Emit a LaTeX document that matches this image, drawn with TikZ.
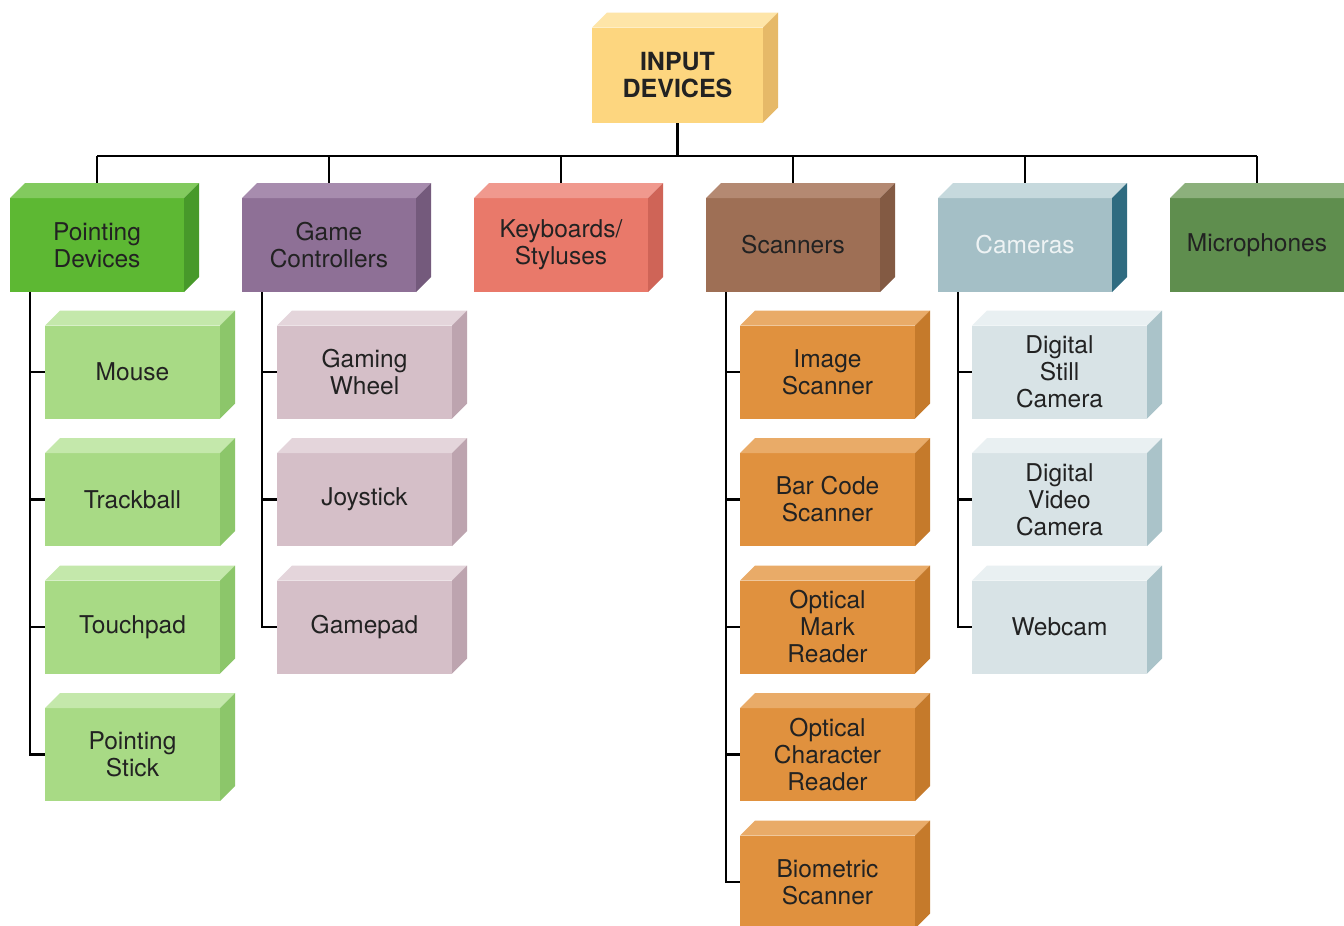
\documentclass[tikz,border=0pt]{standalone}
\usepackage{fontspec}
\setmainfont{TeX Gyre Heros}
\usetikzlibrary{backgrounds}
\definecolor{inF}{HTML}{FDD67F}\definecolor{inT}{HTML}{FEE5A8}\definecolor{inS}{HTML}{E6B968}
\definecolor{pdF}{HTML}{5DB833}\definecolor{pdT}{HTML}{82CA5E}\definecolor{pdS}{HTML}{47992A}
\definecolor{gcF}{HTML}{8E7096}\definecolor{gcT}{HTML}{A78CAE}\definecolor{gcS}{HTML}{745A7C}
\definecolor{kbF}{HTML}{E9796A}\definecolor{kbT}{HTML}{F0998E}\definecolor{kbS}{HTML}{CF6457}
\definecolor{scF}{HTML}{9E6F55}\definecolor{scT}{HTML}{B48972}\definecolor{scS}{HTML}{835A43}
\definecolor{caF}{HTML}{A4BFC6}\definecolor{caT}{HTML}{C6D9DD}\definecolor{caS}{HTML}{2F6B80}
\definecolor{miF}{HTML}{5F8E4E}\definecolor{miT}{HTML}{8CB07C}\definecolor{miS}{HTML}{4C7A3D}
\definecolor{pcF}{HTML}{A8DA85}\definecolor{pcT}{HTML}{C4E8AB}\definecolor{pcS}{HTML}{8CC66A}
\definecolor{gpF}{HTML}{D5BFC8}\definecolor{gpT}{HTML}{E4D5DB}\definecolor{gpS}{HTML}{BDA4AF}
\definecolor{soF}{HTML}{E0913E}\definecolor{soT}{HTML}{E9AB68}\definecolor{soS}{HTML}{C57A2B}
\definecolor{cdF}{HTML}{D8E3E6}\definecolor{cdT}{HTML}{E9F0F2}\definecolor{cdS}{HTML}{AAC3C9}
\definecolor{txt}{HTML}{222222}
\tikzset{
  cubebase/.style={inner sep=0pt, outer sep=0pt, align=center, text=txt,
    font=\fontsize{24.5}{27}\selectfont},
  topbox/.style={cubebase, minimum width=174pt, minimum height=94pt},
  subbox/.style={cubebase, minimum width=175pt, minimum height=93pt},
  rootbox/.style={cubebase, minimum width=171pt, minimum height=95pt,
    font=\fontsize{25}{27}\selectfont\bfseries},
  conn/.style={line width=2.4pt, black}
}
\newcommand\cubebox[5]{%
  \node[#1, fill=#4F] (#2) at (#3) {#5};
  \fill[#4T] (#2.north west) -- ([xshift=15pt,yshift=15pt]#2.north west)
    -- ([xshift=15pt,yshift=15pt]#2.north east) -- (#2.north east) -- cycle;
  \fill[#4S] (#2.north east) -- ([xshift=15pt,yshift=15pt]#2.north east)
    -- ([xshift=15pt,yshift=15pt]#2.south east) -- (#2.south east) -- cycle;
}
\begin{document}
\begin{tikzpicture}[x=1pt,y=-1pt]
\useasboundingbox (0,0) rectangle (1344,926);
\clip (0,0) rectangle (1344,926);
% root and top level
\cubebox{rootbox}{in}{677.5,75}{in}{INPUT\\DEVICES}
\cubebox{topbox}{pd}{97,245}{pd}{Pointing\\Devices}
\cubebox{topbox}{gc}{329,245}{gc}{Game\\Controllers}
\cubebox{topbox}{kb}{561,245}{kb}{Keyboards/\\Styluses}
\cubebox{topbox}{sc}{793,245}{sc}{Scanners}
\cubebox{topbox}{ca}{1025,245}{ca}{\color[HTML]{EEF3F4}Cameras}
\cubebox{topbox}{mi}{1257,245}{mi}{Microphones}
% pointing children
\cubebox{subbox}{mo}{132.5,372}{pc}{Mouse}
\cubebox{subbox}{tb}{132.5,499.5}{pc}{Trackball}
\cubebox{subbox}{tp}{132.5,627}{pc}{Touchpad}
\cubebox{subbox}{ps}{132.5,754.5}{pc}{Pointing\\Stick}
% game children
\cubebox{subbox}{gw}{364.5,372}{gp}{Gaming\\Wheel}
\cubebox{subbox}{js}{364.5,499.5}{gp}{Joystick}
\cubebox{subbox}{gp}{364.5,627}{gp}{Gamepad}
% scanner children
\cubebox{subbox}{is}{827.5,372}{so}{Image\\Scanner}
\cubebox{subbox}{bc}{827.5,499.5}{so}{Bar Code\\Scanner}
\cubebox{subbox}{om}{827.5,627}{so}{Optical\\Mark\\Reader}
\cubebox{subbox}{oc}{827.5,754.5}{so}{Optical\\Character\\Reader}
\cubebox{subbox}{bs}{827.5,882}{so}{Biometric\\Scanner}
% camera children
\cubebox{subbox}{ds}{1059.5,372}{cd}{Digital\\Still\\Camera}
\cubebox{subbox}{dv}{1059.5,499.5}{cd}{Digital\\Video\\Camera}
\cubebox{subbox}{wc}{1059.5,627}{cd}{Webcam}
% connectors
\begin{scope}[on background layer]
\fill[white] (0,0) rectangle (1344,926);
\coordinate (busL) at (97,156);
\coordinate (busR) at (1257,156);
\draw[conn] (in.south) -- (in.south |- busL);
\draw[conn] (busL) -- (busR);
\foreach \t in {pd,gc,kb,sc,ca,mi} \draw[conn] (\t.north |- busL) -- (\t.north);
\coordinate (pdsp) at ([xshift=20pt]pd.south west);
\coordinate (gcsp) at ([xshift=20pt]gc.south west);
\coordinate (scsp) at ([xshift=20pt]sc.south west);
\coordinate (casp) at ([xshift=20pt]ca.south west);
\draw[conn] (pdsp) |- (ps.west);
\foreach \c in {mo,tb,tp} \draw[conn] (\c.west -| pdsp) -- (\c.west);
\draw[conn] (gcsp) |- (gp.west);
\foreach \c in {gw,js} \draw[conn] (\c.west -| gcsp) -- (\c.west);
\draw[conn] (scsp) |- (bs.west);
\foreach \c in {is,bc,om,oc} \draw[conn] (\c.west -| scsp) -- (\c.west);
\draw[conn] (casp) |- (wc.west);
\foreach \c in {ds,dv} \draw[conn] (\c.west -| casp) -- (\c.west);
\end{scope}
\end{tikzpicture}
\end{document}
